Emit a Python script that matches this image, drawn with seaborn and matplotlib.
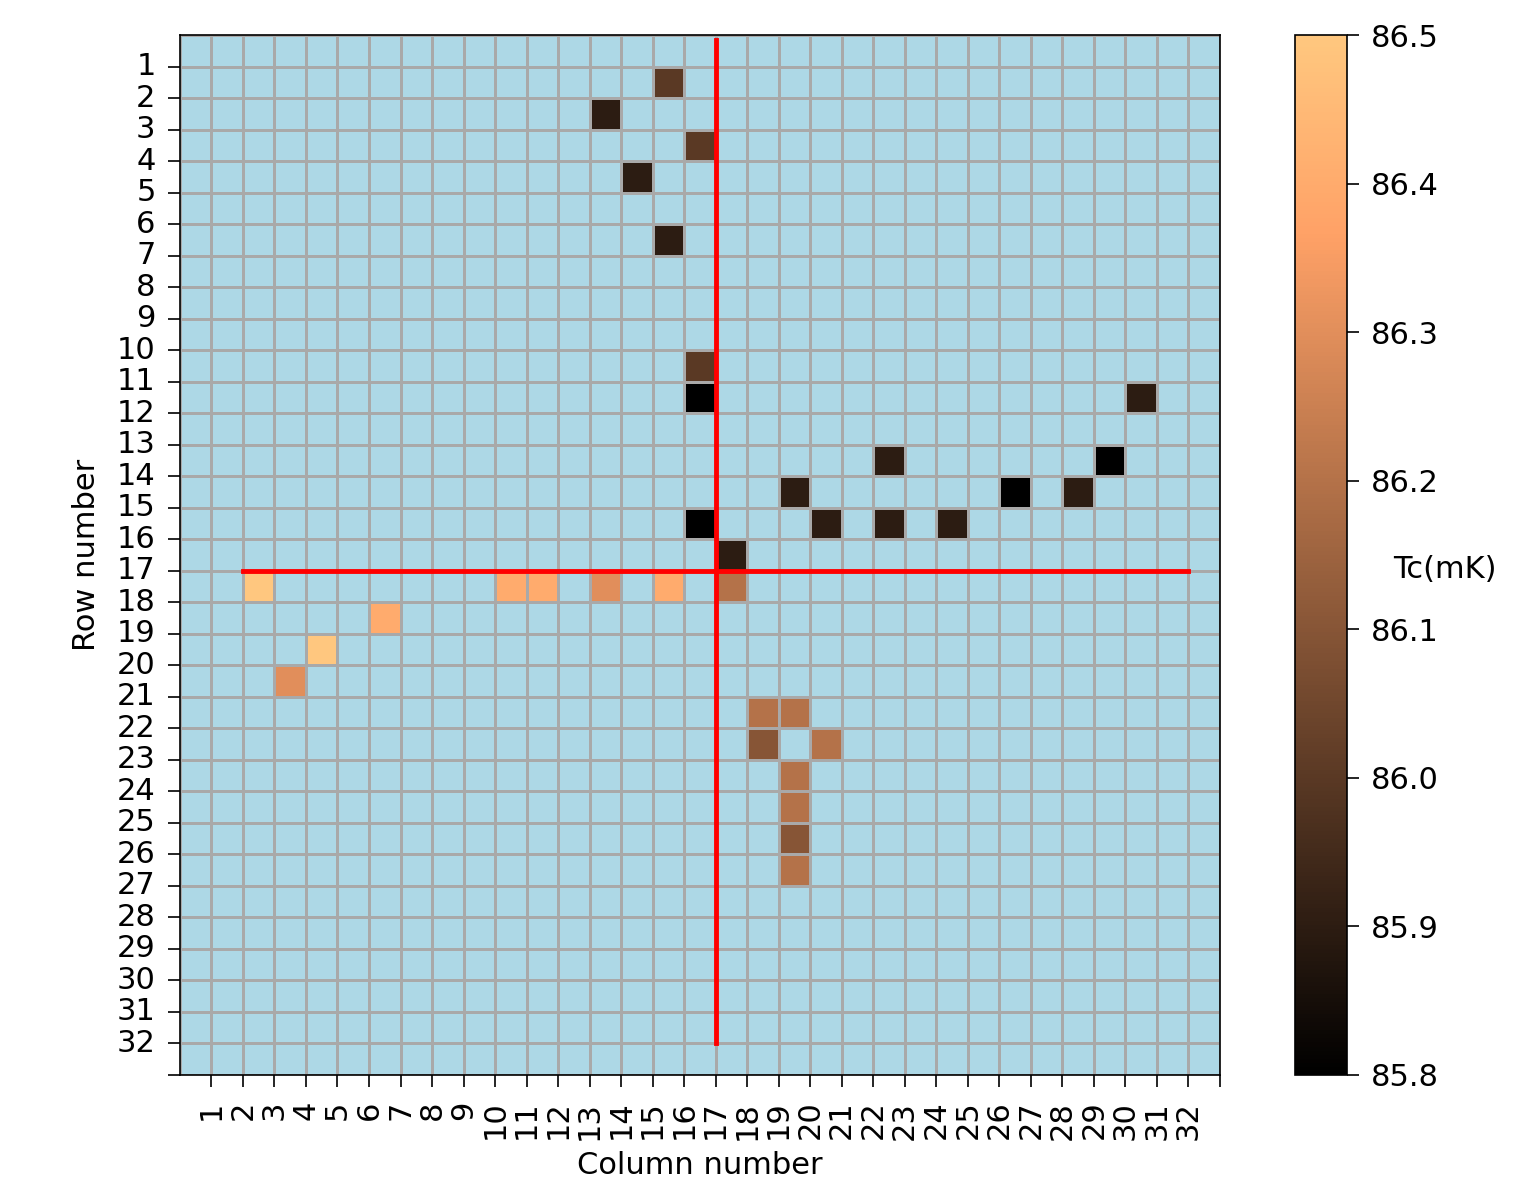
import numpy as np
import pandas as pd
import seaborn as sns
import matplotlib.pyplot as plt
from matplotlib.colors import ListedColormap

n_cells = 33

# measured pixels: (row, column, Tc in mK)
rows = [1, 2, 3, 4, 6, 10, 11, 11, 13, 13, 14, 14, 14, 15, 15, 15, 15, 16,
        17, 17, 17, 17, 17, 17, 18, 19, 20, 21, 21, 22, 22, 23, 24, 25, 26]
cols = [15, 13, 16, 14, 15, 16, 16, 30, 22, 29, 19, 26, 28, 16, 20, 22, 24, 17,
        2, 10, 11, 13, 15, 17, 6, 4, 3, 18, 19, 18, 20, 19, 19, 19, 19]
tc = [86.0, 85.9, 86.0, 85.9, 85.9, 86.0, 85.8, 85.9, 85.9, 85.8, 85.9, 85.8, 85.9,
      85.8, 85.9, 85.9, 85.9, 85.9,
      86.5, 86.4, 86.4, 86.3, 86.4, 86.2, 86.4, 86.5, 86.3, 86.2, 86.2, 86.1, 86.2,
      86.2, 86.2, 86.1, 86.2]

tick_labels = [str(i) for i in range(1, 33)] + ['']
cbar_ticks = [85.8, 85.9, 86.0, 86.1, 86.2, 86.3, 86.4, 86.5]

grid = np.full((n_cells, n_cells), np.nan)
grid[rows, cols] = tc
df = pd.DataFrame(grid)

fs = 22
fig = plt.figure(figsize=(15.3, 11.91), dpi=100)
ax = fig.add_axes([0.1176, 0.0974, 0.6797, 0.8732])
cax = fig.add_axes([0.8464, 0.0974, 0.034, 0.8732])

# empty pixels in light blue
sns.heatmap(np.zeros((n_cells, n_cells)), cmap=ListedColormap(['lightblue']),
            cbar=False, linewidths=2, linecolor='darkgray', ax=ax)
sns.heatmap(df, cmap='copper', vmin=85.8, vmax=86.5, linewidths=2,
            linecolor='darkgray', ax=ax, cbar_ax=cax,
            cbar_kws={'ticks': cbar_ticks})

ax.plot([17, 17], [0.15, 32], color='red', lw=3.5)
ax.plot([2, 32], [17, 17], color='red', lw=3.5)

ax.set_xticks(range(1, 34))
ax.set_xticklabels(tick_labels, rotation=90)
ax.set_yticks(range(1, 34))
ax.set_yticklabels(tick_labels, rotation=0)
ax.tick_params(length=8.5, width=1.2, labelsize=fs, color='black')
ax.tick_params(axis='x', pad=10)
ax.tick_params(axis='y', pad=9)
for s in ax.spines.values():
    s.set_visible(True)
    s.set_linewidth(1.2)
ax.set_xlabel('Column number', fontsize=fs, labelpad=8)
ax.set_ylabel('Row number', fontsize=fs, labelpad=11)

cbar = ax.collections[-1].colorbar
cbar.outline.set_linewidth(1.2)
cbar.ax.tick_params(length=8.5, width=1.2, labelsize=fs, pad=9)
cbar.ax.set_yticklabels(['%.1f' % t for t in cbar_ticks])
cbar.set_label('Tc(mK)', fontsize=fs, rotation=0)

fig.savefig('out.png', dpi=100)
